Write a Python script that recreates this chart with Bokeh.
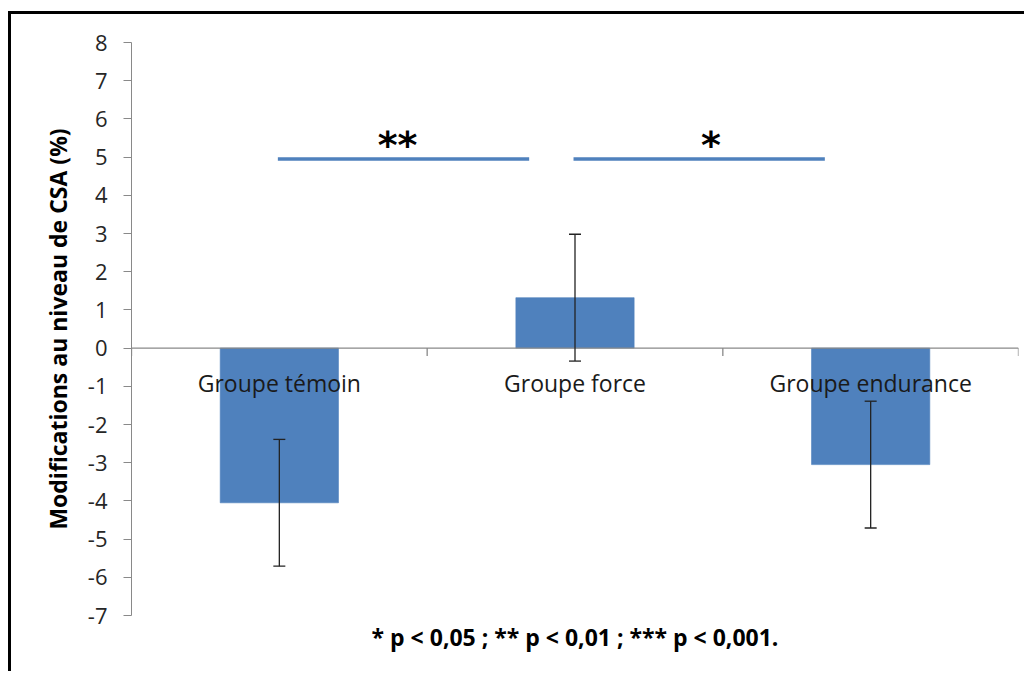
from bokeh.plotting import figure
from bokeh.models import ColumnDataSource, Range1d, FixedTicker, Title, Whisker
from bokeh.core.properties import value
from bokeh.embed import file_html
from bokeh.resources import INLINE

categories = ["Groupe témoin", "Groupe force", "Groupe endurance"]
changes = [-4.05, 1.32, -3.05]
errors = [1.66, 1.66, 1.66]
y_ticks = list(range(-7, 9))
sig_pairs = [(0, 1), (1, 2)]
sig_level = 4.95
sig_labels = ["**", "*"]
footnote = "* p < 0,05 ; ** p < 0,01 ; *** p < 0,001."
y_label = "Modifications au niveau de CSA (%)"

FONT = "Open Sans"
BLUE = "#4F81BD"
GRAY = "#898989"

n = len(categories)
xs = [i + 0.5 for i in range(n)]
src = ColumnDataSource(dict(
    x=xs, top=changes, cat=categories,
    lo=[c - e for c, e in zip(changes, errors)],
    hi=[c + e for c, e in zip(changes, errors)],
    zero=[0] * n,
))

p = figure(width=1016, height=660, output_backend="svg", toolbar_location=None,
           x_range=Range1d(0, n), y_range=Range1d(min(y_ticks), max(y_ticks)),
           min_border_left=120, min_border_right=9, min_border_top=28, min_border_bottom=59,
           styles={"border-top": "3px solid black", "border-left": "3px solid black",
                   "margin-top": "11px", "margin-left": "8px"})
p.outline_line_color = None
p.grid.visible = False
p.xaxis.visible = False

ya = p.yaxis[0]
ya.ticker = FixedTicker(ticks=y_ticks)
ya.major_label_overrides = {t: str(t) for t in y_ticks}
ya.axis_line_color = GRAY
ya.major_tick_line_color = GRAY
ya.major_tick_out = 8
ya.major_tick_in = 0
ya.minor_tick_line_color = None
ya.major_label_standoff = 16
ya.major_label_text_font = FONT
ya.major_label_text_font_size = "22px"
ya.major_label_text_color = "#262626"
ya.axis_label = y_label
ya.axis_label_text_font = FONT
ya.axis_label_text_font_style = "bold"
ya.axis_label_text_font_size = "23px"
ya.axis_label_text_color = "black"
ya.axis_label_standoff = 11

# bars
p.vbar(x="x", top="top", bottom="zero", width=0.40, source=src,
       fill_color=BLUE, line_color=BLUE, line_alpha=0.6)

# zero axis line and category boundary ticks
p.segment(x0=[0], y0=[0], x1=[n], y1=[0], line_color=GRAY, line_width=1.3)
p.segment(x0=list(range(n + 1)), y0=[0] * (n + 1), x1=list(range(n + 1)),
          y1=[-0.21] * (n + 1), line_color=GRAY, line_width=1.3)

# error bars (drawn above the bars)
w = Whisker(source=src, base="x", upper="hi", lower="lo", line_color="#222222",
            line_width=1.3, level="overlay")
for head in (w.upper_head, w.lower_head):
    head.size = 12
    head.line_color = "#222222"
    head.line_width = 1.3
p.add_layout(w)

# category labels just below the zero line
p.text(x="x", y="zero", text="cat", source=src, y_offset=35,
       text_align="center", text_baseline="middle",
       text_font=value(FONT), text_font_size="23px", text_color="#1a1a1a")

# significance bars
label_shift = {"**": -0.10, "*": -0.04}
for (a, b), lab in zip(sig_pairs, sig_labels):
    xa, xb = xs[a], xs[b]
    p.segment(x0=[xa - 0.005], y0=[sig_level], x1=[xb - 0.155], y1=[sig_level],
              line_color=BLUE, line_width=3.5)
    p.text(x=[(xa + xb) / 2 + label_shift[lab]], y=[sig_level], text=[lab], y_offset=8,
           text_align="center", text_baseline="bottom",
           text_font=value("DejaVu Sans"), text_font_style="bold",
           text_font_size="38px", text_color="black")

p.add_layout(Title(text=footnote, align="center", text_font=FONT,
                   text_font_style="bold", text_font_size="23px",
                   text_color="black", standoff=6), "below")

open("out.html", "w").write(file_html(p, INLINE))
